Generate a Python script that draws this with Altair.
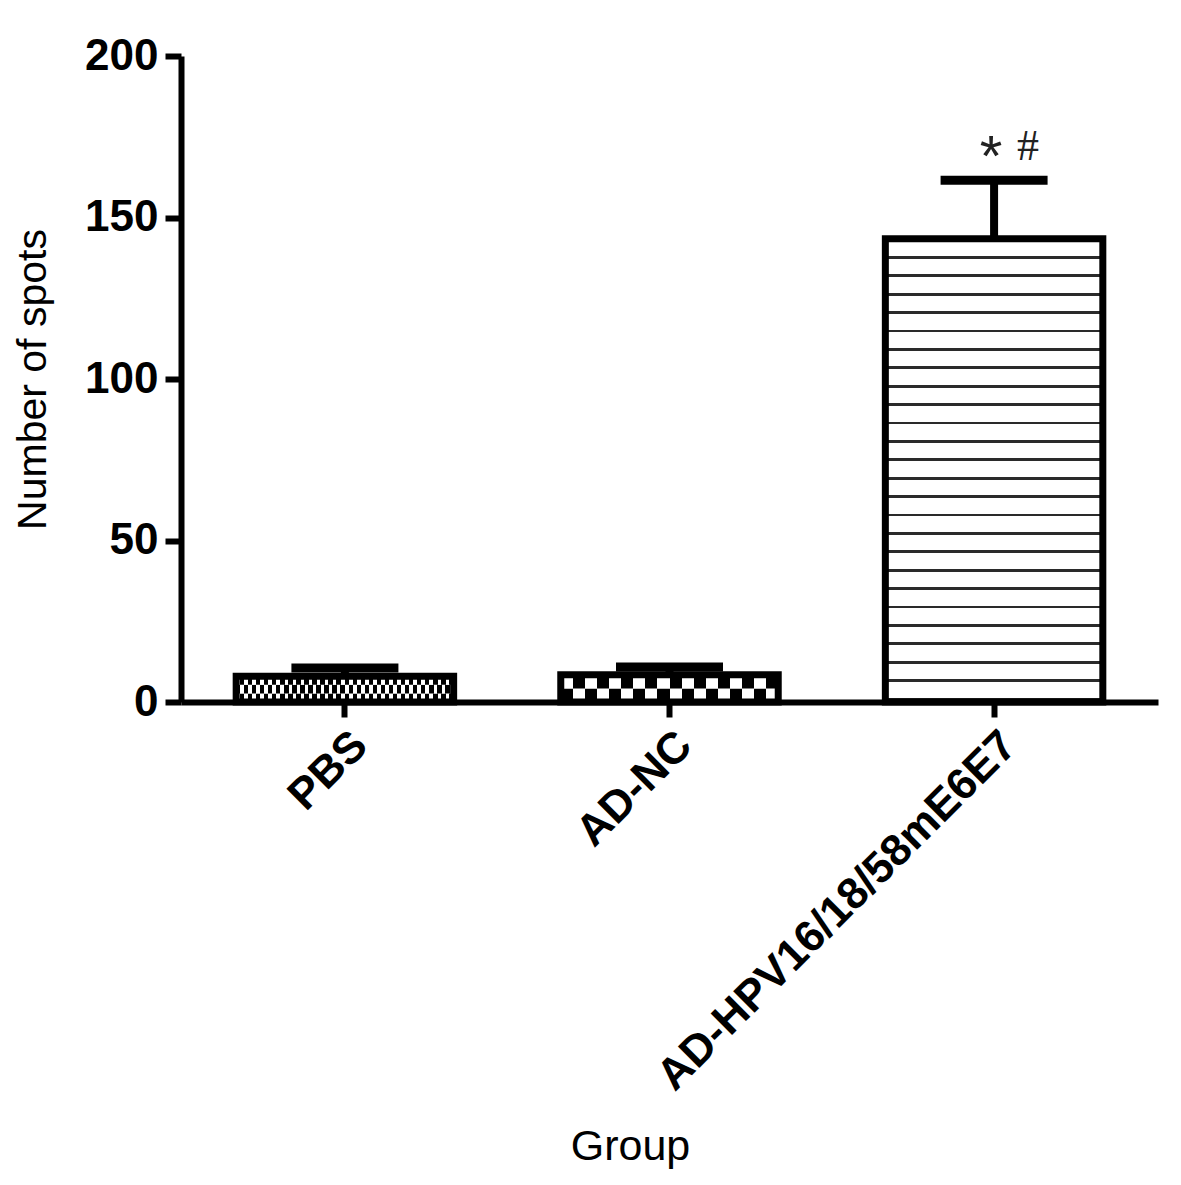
import altair as alt
import pandas as pd

# ---- data ----
groups = ["PBS", "AD-NC", "AD-HPV16/18/58mE6E7"]
means = [8.0, 8.4, 143.4]
uppers = [10.5, 10.8, 161.5]
y_ticks = [0, 50, 100, 150, 200]
sig_group = "AD-HPV16/18/58mE6E7"

df = pd.DataFrame({"group": groups, "mean": means, "upper": uppers})

PLOT_W = 977
PLOT_H = 646
PX_PER_UNIT = PLOT_H / 200.0
FONT = "Liberation Sans"


def stripe_stops(n, phase, on_frac, on_color, off_color):
    period = 1.0 / n
    segs = []
    for j in range(-1, n + 1):
        a = (j + phase) * period
        b = a + on_frac * period
        a2, b2 = max(a, 0.0), min(b, 1.0)
        if b2 > a2:
            segs.append((round(a2, 5), round(b2, 5)))
    stops = [alt.GradientStop(offset=0, color=off_color)]
    for a, b in segs:
        stops += [alt.GradientStop(offset=a, color=off_color),
                  alt.GradientStop(offset=a, color=on_color),
                  alt.GradientStop(offset=b, color=on_color),
                  alt.GradientStop(offset=b, color=off_color)]
    stops.append(alt.GradientStop(offset=1, color=off_color))
    return stops


def h_grad(n, phase, on_frac):
    return alt.LinearGradient(gradient="linear", x1=0, y1=0, x2=1, y2=0,
                              stops=stripe_stops(n, phase, on_frac, "white", "black"))


def hpv_lines_grad(mean_val):
    H = mean_val * PX_PER_UNIT
    stops = [alt.GradientStop(offset=0, color="white")]
    c = 18.5
    while c + 2 < H:
        a = round((c - 1.4) / H, 5)
        b = round((c + 1.4) / H, 5)
        stops += [alt.GradientStop(offset=a, color="white"),
                  alt.GradientStop(offset=a, color="#2a2a2a"),
                  alt.GradientStop(offset=b, color="#2a2a2a"),
                  alt.GradientStop(offset=b, color="white")]
        c += 18.4
    stops.append(alt.GradientStop(offset=1, color="white"))
    return alt.LinearGradient(gradient="linear", x1=0, y1=0, x2=0, y2=1, stops=stops)


x_enc = alt.X(
    "group:N", sort=groups,
    scale=alt.Scale(paddingInner=0.33, paddingOuter=0.17),
    axis=alt.Axis(
        title="Group", labelAngle=315, labelAlign="right", labelBaseline="top",
        labelPadding=6, labelLimit=0, tickSize=15, titleX=449, titleY=457,
        titleBaseline="alphabetic", titleAlign="center", titleFontSize=43,
    ),
)
y_scale = alt.Scale(domain=[0, 200], nice=False, zero=True)
y_axis = alt.Axis(
    title="Number of spots", values=y_ticks, tickSize=16, labelPadding=7,
    titleX=-136, titleY=323, titleAngle=270, titleBaseline="alphabetic",
    titleAlign="center", titleFontSize=41,
)

base = alt.Chart(df)

layers = []

# PBS: fine staggered dots (3 rows)
for k, ph in enumerate([0.0, 0.5, 0.0]):
    layers.append(
        base.transform_filter(alt.datum.group == "PBS")
        .transform_calculate(lo=f"datum.mean*{k}/3", hi=f"datum.mean*{k+1}/3")
        .mark_bar(fill=h_grad(27, ph, 0.45), strokeWidth=0)
        .encode(x=x_enc, y=alt.Y("lo:Q", scale=y_scale, axis=y_axis), y2="hi:Q")
    )

# AD-NC: coarse checker (2 rows)
for k, ph in enumerate([0.5, 0.0]):
    layers.append(
        base.transform_filter(alt.datum.group == "AD-NC")
        .transform_calculate(lo=f"datum.mean*{k}/2", hi=f"datum.mean*{k+1}/2")
        .mark_bar(fill=h_grad(9, ph, 0.5), strokeWidth=0)
        .encode(x=x_enc, y=alt.Y("lo:Q", scale=y_scale, axis=y_axis), y2="hi:Q")
    )

# AD-HPV: horizontal lines
layers.append(
    base.transform_filter(alt.datum.group == sig_group)
    .mark_bar(fill=hpv_lines_grad(means[2]), strokeWidth=0)
    .encode(x=x_enc, y=alt.Y("mean:Q", scale=y_scale, axis=y_axis))
)

# outlines
layers.append(
    base.mark_bar(fillOpacity=0, stroke="black", strokeWidth=7)
    .encode(x=x_enc, y=alt.Y("mean:Q", scale=y_scale, axis=y_axis))
)

# error stems
layers.append(
    base.mark_rule(color="black", strokeWidth=8)
    .encode(x=x_enc, y=alt.Y("mean:Q", scale=y_scale, axis=y_axis), y2="upper:Q")
)

# error caps
layers.append(
    base.mark_tick(color="black", thickness=9, size=107, opacity=1)
    .encode(x=x_enc, y=alt.Y("upper:Q", scale=y_scale, axis=y_axis))
)

# significance marks
layers.append(
    base.transform_filter(alt.datum.group == sig_group)
    .mark_text(text="*", font=FONT, fontSize=58, color="#222222",
               align="center", baseline="alphabetic", dx=-3, dy=-4)
    .encode(x=x_enc, y=alt.Y("upper:Q", scale=y_scale, axis=y_axis))
)
layers.append(
    base.transform_filter(alt.datum.group == sig_group)
    .mark_text(text="#", font="Liberation Serif", fontSize=44, color="#222222",
               align="center", baseline="alphabetic", dx=34, dy=-20)
    .encode(x=x_enc, y=alt.Y("upper:Q", scale=y_scale, axis=y_axis))
)

chart = (
    alt.layer(*layers)
    .properties(
        width=PLOT_W, height=PLOT_H,
        autosize=alt.AutoSizeParams(type="none"),
        padding={"left": 173, "top": 48, "right": 10, "bottom": 470},
        background="white",
    )
    .configure_view(stroke="transparent")
    .configure_axis(
        grid=False, domainColor="black", domainWidth=6, tickColor="black",
        tickWidth=6, labelFont=FONT, labelFontSize=44, labelFontWeight="bold",
        labelColor="black", titleFont=FONT, titleFontWeight="normal",
        titleColor="black",
    )
)

chart.save("out.html", embed_options={"renderer": "svg", "actions": False})
